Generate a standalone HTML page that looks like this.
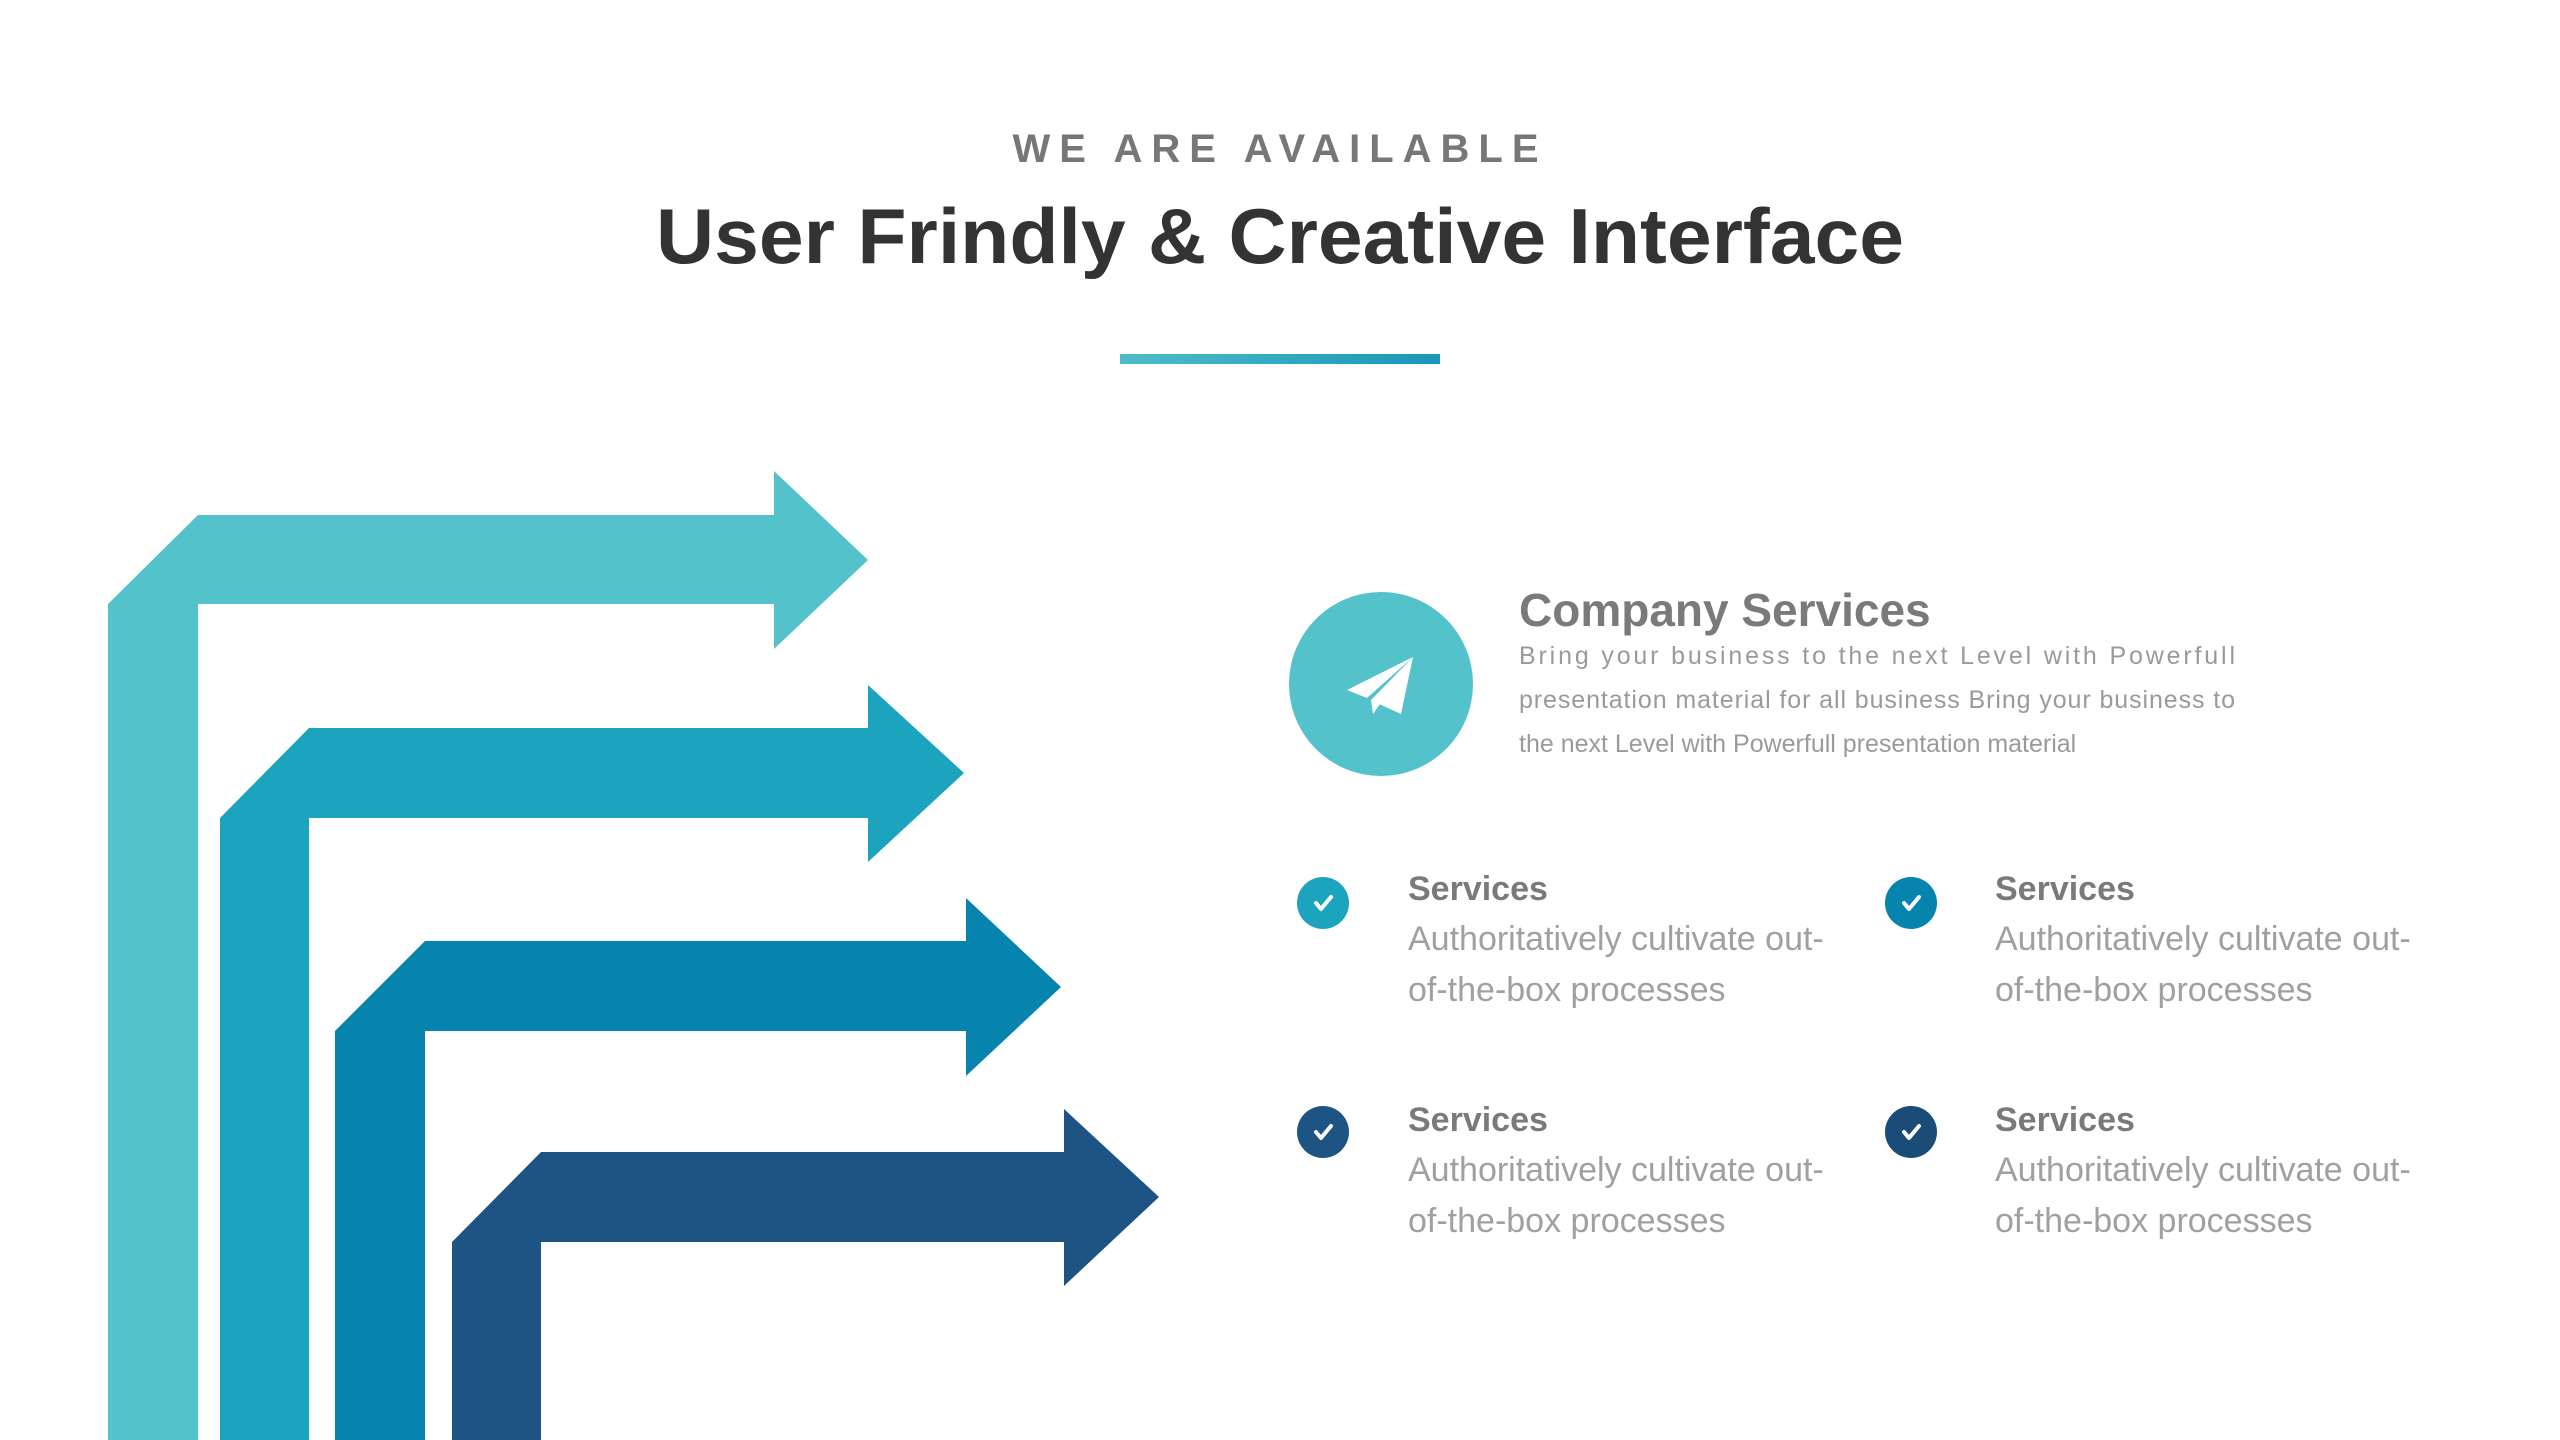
<!DOCTYPE html>
<html><head><meta charset="utf-8"><style>
html,body{margin:0;padding:0;background:#fff;}
svg{display:block;}
text{font-family:"Liberation Sans",sans-serif;}
</style></head><body>
<svg width="2560" height="1440" viewBox="0 0 2560 1440" xmlns="http://www.w3.org/2000/svg">
<defs><linearGradient id="g" x1="0" x2="1"><stop offset="0" stop-color="#4DBCC9"/><stop offset="1" stop-color="#1A97B6"/></linearGradient></defs>
<text x="1280" y="162" text-anchor="middle" font-size="40" font-weight="700" fill="#777" letter-spacing="9">WE ARE AVAILABLE</text>
<text x="1280" y="263" text-anchor="middle" font-size="78" font-weight="700" fill="#333" textLength="1248" lengthAdjust="spacingAndGlyphs">User Frindly &amp; Creative Interface</text>
<rect x="1120" y="354" width="320" height="10" fill="url(#g)"/>

<polygon fill="#53C2CA" points="108,1440 108,604 198,515 774,515 774,471 868,560 774,649 774,604 198,604 198,1440"/>
<g transform="translate(-3,-2)"><polygon fill="#1CA4BE" points="223,1444 223,820 312,730 871,730 871,687 967,775 871,864 871,820 312,820 312,1444"/></g>
<g transform="translate(-3,-3)"><polygon fill="#0784AD" points="338,1444 338,1034 428,944 969,944 969,901 1064,990 969,1079 969,1034 428,1034 428,1444"/></g>
<g transform="translate(-3,-4)"><polygon fill="#1D5484" points="455,1444 455,1246 544,1156 1067,1156 1067,1113 1162,1201 1067,1290 1067,1246 544,1246 544,1444"/></g>

<circle cx="1381" cy="684" r="92" fill="#53C2CA"/>
<g transform="translate(1381,684)" fill="#fff">
<polygon points="32,-27 -34,6 -14,14"/>
<polygon points="32,-27 -10,16 -8,30"/>
<polygon points="32,-27 -2,20 20,30"/>
</g>
<text x="1519" y="626" font-size="46" font-weight="700" fill="#7a7a7a">Company Services</text>
<text x="1519" y="664" font-size="25" fill="#9a9a9a" textLength="716" lengthAdjust="spacing">Bring your business to the next Level with Powerfull</text>
<text x="1519" y="708" font-size="25" fill="#9a9a9a" textLength="716" lengthAdjust="spacing">presentation material for all business Bring your business to</text>
<text x="1519" y="752" font-size="25" fill="#9a9a9a">the next Level with Powerfull presentation material</text>

<circle cx="1323" cy="903" r="26" fill="#1CA4BE"/>
<circle cx="1911" cy="903" r="26" fill="#0784AD"/>
<circle cx="1323" cy="1132" r="26" fill="#1D5484"/>
<circle cx="1911" cy="1132" r="26" fill="#1B4B77"/>
<g fill="none" stroke="#fff" stroke-width="4" stroke-linecap="round" stroke-linejoin="round">
<polyline points="1316,903 1321,909 1331,897"/>
<polyline points="1904,903 1909,909 1919,897"/>
<polyline points="1316,1132 1321,1138 1331,1126"/>
<polyline points="1904,1132 1909,1138 1919,1126"/>
</g>
<g font-size="34" font-weight="700" fill="#7a7a7a">
<text x="1408" y="900">Services</text>
<text x="1995" y="900">Services</text>
<text x="1408" y="1131">Services</text>
<text x="1995" y="1131">Services</text>
</g>
<g font-size="34" fill="#a0a0a0">
<text x="1408" y="950">Authoritatively cultivate out-</text>
<text x="1408" y="1001">of-the-box processes</text>
<text x="1995" y="950">Authoritatively cultivate out-</text>
<text x="1995" y="1001">of-the-box processes</text>
<text x="1408" y="1181">Authoritatively cultivate out-</text>
<text x="1408" y="1232">of-the-box processes</text>
<text x="1995" y="1181">Authoritatively cultivate out-</text>
<text x="1995" y="1232">of-the-box processes</text>
</g>
</svg>
</body></html>
